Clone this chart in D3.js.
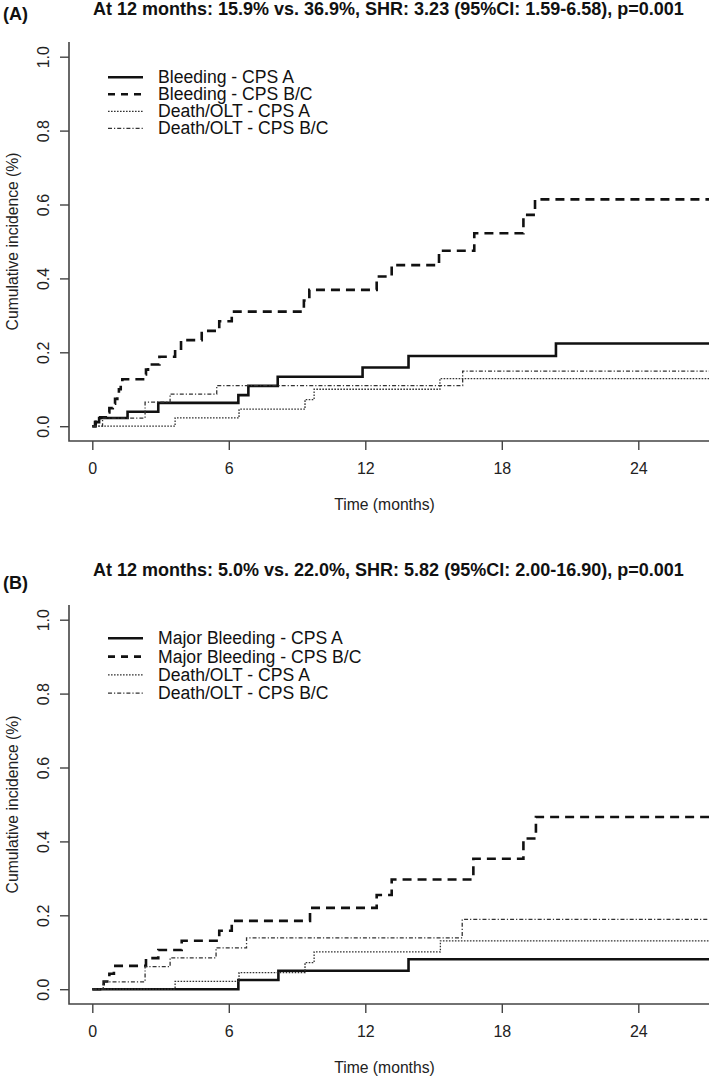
<!DOCTYPE html>
<html>
<head>
<meta charset="utf-8">
<script src="https://cdn.jsdelivr.net/npm/d3@7"></script>
<style>
  html, body { margin: 0; padding: 0; background: #fff; }
  svg { display: block; font-family: "Liberation Sans", Arial, sans-serif; }
</style>
</head>
<body>
<svg id="chart" width="709" height="1076"></svg>
<script>
// ---------------- DATA ----------------
const xTicks = [0, 6, 12, 18, 24];
const yTicks = [0, 0.2, 0.4, 0.6, 0.8, 1.0];
const yTickLabels = ["0.0", "0.2", "0.4", "0.6", "0.8", "1.0"];

const panelLabels = ["(A)", "(B)"];
const panelTitles = [
  "At 12 months: 15.9% vs. 36.9%, SHR: 3.23 (95%CI: 1.59-6.58), p=0.001",
  "At 12 months: 5.0% vs. 22.0%, SHR: 5.82 (95%CI: 2.00-16.90), p=0.001"
];
const legendA = ["Bleeding - CPS A", "Bleeding - CPS B/C", "Death/OLT - CPS A", "Death/OLT - CPS B/C"];
const legendB = ["Major Bleeding - CPS A", "Major Bleeding - CPS B/C", "Death/OLT - CPS A", "Death/OLT - CPS B/C"];
const xTitle = "Time (months)";
const yTitle = "Cumulative incidence (%)";

// Panel A step series: [month, cumulative incidence]
const bleedingA = [[0,0],[0.12,0.011],[0.3,0.022],[1.55,0.039],[2.9,0.063],[6.42,0.084],[6.86,0.109],[8.15,0.134],[11.88,0.159],[13.9,0.19],[20.38,0.224]];
const bleedingBC = [[0,0],[0.15,0.012],[0.35,0.024],[0.65,0.037],[0.75,0.049],[0.9,0.061],[1.0,0.074],[1.1,0.087],[1.17,0.1],[1.25,0.113],[1.32,0.127],[2.32,0.14],[2.36,0.153],[2.45,0.167],[2.95,0.188],[3.64,0.21],[3.9,0.233],[4.81,0.258],[5.58,0.284],[6.13,0.31],[9.3,0.34],[9.54,0.369],[12.5,0.405],[13.16,0.436],[15.24,0.475],[16.79,0.522],[18.95,0.572],[19.46,0.614]];
const deathA_A = [[0,0],[3.64,0.0225],[6.45,0.046],[9.35,0.072],[9.75,0.1],[15.28,0.129]];
const deathBC_A = [[0,0],[0.45,0.022],[2.32,0.065],[3.42,0.087],[5.47,0.11],[16.28,0.149]];

// Panel B step series
const majorBleedingA = [[0,0],[6.42,0.025],[8.18,0.05],[13.9,0.081]];
const majorBleedingBC = [[0,0],[0.5,0.021],[0.75,0.042],[0.95,0.063],[2.36,0.084],[2.9,0.106],[3.93,0.131],[5.58,0.158],[6.13,0.185],[9.57,0.22],[12.5,0.255],[13.16,0.297],[16.75,0.353],[18.95,0.408],[19.5,0.466]];
const deathA_B = [[0,0],[3.64,0.021],[6.45,0.045],[9.35,0.072],[9.75,0.101],[15.3,0.131]];
const deathBC_B = [[0,0],[0.48,0.02],[2.32,0.061],[3.42,0.085],[5.44,0.112],[6.78,0.139],[16.26,0.189]];

const followUpEnd = 28;

// ---------------- STYLES ----------------
const styles = [
  { width: 2.6, dash: null, color: "#111" },        // solid
  { width: 2.6, dash: "9,6", color: "#111" },       // dashed
  { width: 1.3, dash: "1.6,1.4", color: "#333" },   // dotted
  { width: 1.3, dash: "4,2,1.2,2", color: "#333" }  // dash-dot
];

const svg = d3.select("#chart");
const FONT = "'Liberation Sans', Arial, sans-serif";

function drawPanel(cfg) {
  const g = svg.append("g");
  const x = d3.scaleLinear().domain([0, 24]).range([92.3, 638.3]);
  const y = d3.scaleLinear().domain([0, 1]).range([cfg.y0, cfg.y0 - 369.5]);
  const boxLeft = 69;
  const boxBottom = y(-0.04);
  const boxTop = y(1.04);

  const clipId = "clip" + cfg.idx;
  svg.append("clipPath").attr("id", clipId)
    .append("rect").attr("x", boxLeft).attr("y", boxTop - 5)
    .attr("width", 709 - boxLeft).attr("height", boxBottom - boxTop + 5);

  // box (L-shape)
  g.append("path")
    .attr("d", `M${boxLeft},${boxTop}V${boxBottom}H${720}`)
    .attr("fill", "none").attr("stroke", "#444").attr("stroke-width", 1.6);

  // y axis ticks
  const yAxis = d3.axisLeft(y).tickValues(yTicks).tickSize(9)
    .tickFormat((d, i) => yTickLabels[i]);
  const ya = g.append("g").attr("transform", `translate(${boxLeft},0)`).call(yAxis);
  ya.select(".domain").remove();
  ya.selectAll(".tick line").attr("stroke", "#444").attr("stroke-width", 1.4);
  ya.selectAll(".tick text")
    .attr("x", 0).attr("dy", null)
    .attr("transform", "translate(-26,0) rotate(-90)")
    .attr("text-anchor", "middle")
    .attr("dominant-baseline", "central")
    .attr("fill", "#222")
    .style("font-family", FONT).style("font-size", "16px");

  // x axis ticks
  const xAxis = d3.axisBottom(x).tickValues(xTicks).tickSize(9).tickFormat(d3.format("d"));
  const xa = g.append("g").attr("transform", `translate(0,${boxBottom})`).call(xAxis);
  xa.select(".domain").remove();
  xa.selectAll(".tick line").attr("stroke", "#444").attr("stroke-width", 1.4);
  xa.selectAll(".tick text")
    .attr("y", 27).attr("dy", "0.35em")
    .attr("fill", "#222")
    .style("font-family", FONT).style("font-size", "16px");

  // axis titles
  g.append("text").attr("x", 384.5).attr("y", boxBottom + 64).attr("dy", "0.35em")
    .attr("text-anchor", "middle").attr("fill", "#222")
    .style("font-family", FONT).style("font-size", "15.7px").text(xTitle);
  g.append("text")
    .attr("transform", `translate(12.5,${(y(0) + y(1)) / 2}) rotate(-90)`)
    .attr("text-anchor", "middle").attr("dominant-baseline", "central").attr("fill", "#222")
    .style("font-family", FONT).style("font-size", "15.7px").text(yTitle);

  // titles
  g.append("text").attr("x", 3).attr("y", cfg.labelY).attr("dy", "0.35em")
    .attr("fill", "#111").style("font-family", FONT).style("font-weight", "bold")
    .style("font-size", "18px").text(cfg.label);
  g.append("text").attr("x", 93).attr("y", cfg.titleY).attr("dy", "0.35em")
    .attr("fill", "#111").style("font-family", FONT).style("font-weight", "bold")
    .style("font-size", "18px").text(cfg.title);

  // curves
  const line = d3.line().x(d => x(d[0])).y(d => y(d[1])).curve(d3.curveStepAfter);
  const lines = g.append("g").attr("clip-path", `url(#${clipId})`);
  cfg.series.forEach((s, i) => {
    const pts = s.concat([[followUpEnd, s[s.length - 1][1]]]);
    const p = lines.append("path").datum(pts).attr("d", line)
      .attr("fill", "none").attr("stroke", styles[i].color)
      .attr("stroke-width", styles[i].width);
    if (styles[i].dash) p.attr("stroke-dasharray", styles[i].dash);
  });

  // legend
  const leg = g.append("g");
  cfg.legend.forEach((t, i) => {
    const ry = cfg.legTop + i * cfg.legStep;
    const l = leg.append("line").attr("x1", 108).attr("x2", 143).attr("y1", ry).attr("y2", ry)
      .attr("stroke", styles[i].color).attr("stroke-width", styles[i].width);
    if (styles[i].dash) l.attr("stroke-dasharray", i === 1 ? "7,6" : styles[i].dash);
    leg.append("text").attr("x", 158).attr("y", ry).attr("dy", "0.35em")
      .attr("fill", "#111").style("font-family", FONT).style("font-size", "17.6px").text(t);
  });
}

drawPanel({
  idx: 0, y0: 426.2, label: panelLabels[0], labelY: 14, title: panelTitles[0], titleY: 9,
  legend: legendA, legTop: 77.3, legStep: 17,
  series: [bleedingA, bleedingBC, deathA_A, deathBC_A]
});
drawPanel({
  idx: 1, y0: 989.2, label: panelLabels[1], labelY: 583, title: panelTitles[1], titleY: 570,
  legend: legendB, legTop: 638.3, legStep: 18.3,
  series: [majorBleedingA, majorBleedingBC, deathA_B, deathBC_B]
});
</script>
</body>
</html>
